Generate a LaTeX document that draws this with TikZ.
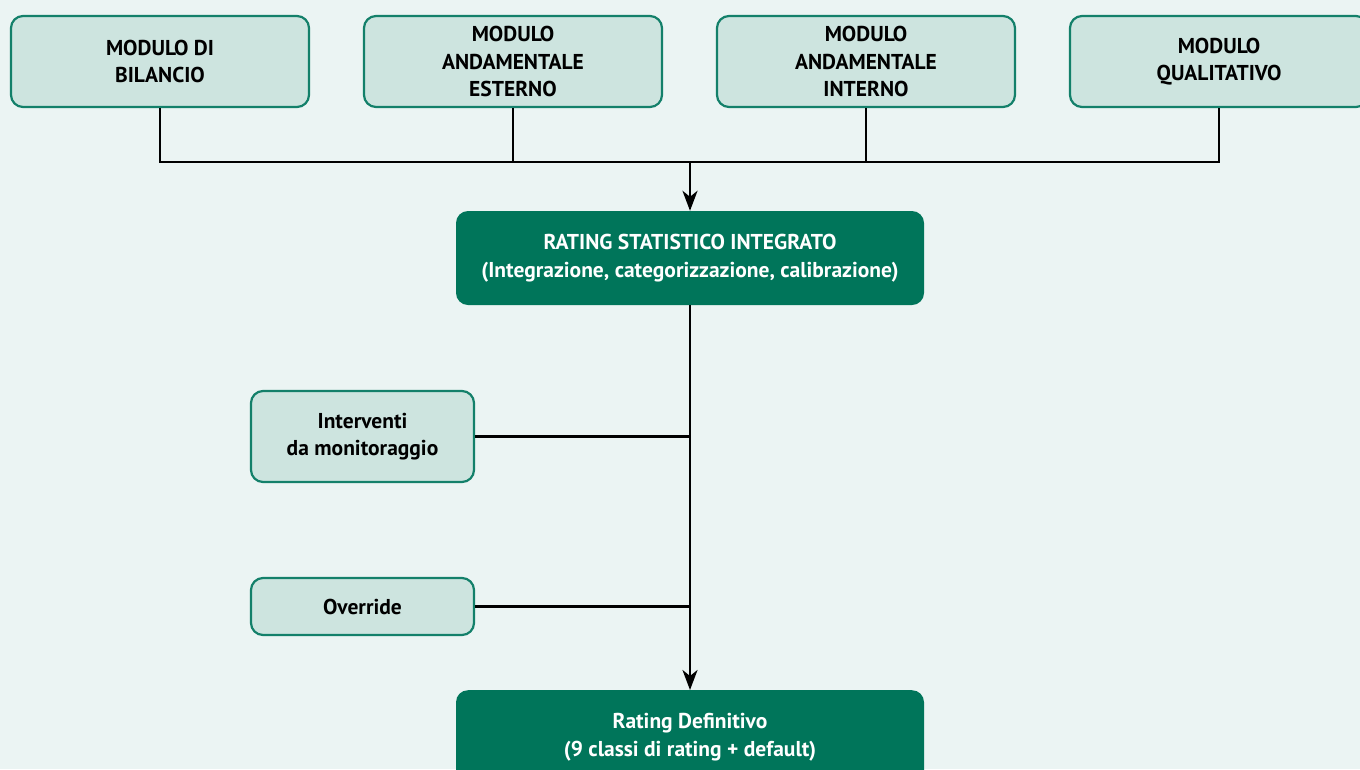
\documentclass[tikz,border=0pt]{standalone}
\usepackage{fontspec}
\setmainfont{PT Sans}
\usetikzlibrary{arrows.meta}

\definecolor{bgcol}{HTML}{EBF4F3}
\definecolor{lightbox}{HTML}{CDE4DF}
\definecolor{boxline}{HTML}{13806A}
\definecolor{darkbox}{HTML}{00755A}

\begin{document}
\begin{tikzpicture}[x=1pt,y=-1pt,
    every node/.style = {font=\fontsize{21.5}{27.5}\selectfont\bfseries, align=center},
    modulo/.style     = {draw=boxline, fill=lightbox, line width=2.2pt,
      rounded corners=12pt, minimum width=298pt, minimum height=91pt},
    sidebox/.style    = {modulo, minimum width=223pt},
    rating/.style     = {fill=darkbox, text=white, rounded corners=12pt,
      minimum width=468pt, minimum height=94pt},
    link/.style       = {line width=2.6pt},
    arr/.style        = {link, -{Stealth[length=20pt,width=15pt,inset=6pt]}}
  ]
  \fill[bgcol] (0,0) rectangle (1360,769);
  \useasboundingbox (0,0) rectangle (1360,769);
  \clip (0,0) rectangle (1360,769);

  % moduli
  \node[modulo] (bil) at (160,61.5) {MODULO DI\\BILANCIO};
  \node[modulo] (est) at (513,61.5) {MODULO\\ANDAMENTALE\\ESTERNO};
  \node[modulo] (int) at (866,61.5) {MODULO\\ANDAMENTALE\\INTERNO};
  \node[modulo] (qual) at (1219,61.5) {MODULO\\QUALITATIVO};

  % rating
  \node[rating] (rsi) at (690,258) {RATING STATISTICO INTEGRATO\\(Integrazione, categorizzazione, calibrazione)};
  \node[rating, anchor=north] (def) at (690,690) {Rating Definitivo\\(9 classi di rating + default)};

  \node[sidebox] (mon) at (362.5,436.5) {Interventi\\da monitoraggio};
  \node[sidebox, minimum height=57pt] (ovr) at (362.5,606.5) {Override};

  \coordinate (join) at (690,162);
  \draw[link] (bil.south) |- (join) -| (qual.south);
  \draw[link] (est.south) -- (est.south |- join);
  \draw[link] (int.south) -- (int.south |- join);
  \draw[arr] (join) -- (rsi.north);

  \draw[arr] (rsi.south) -- (def.north);
  \draw[link] (mon.east) -- (mon.east -| rsi.south);
  \draw[link] (ovr.east) -- (ovr.east -| rsi.south);
\end{tikzpicture}
\end{document}
